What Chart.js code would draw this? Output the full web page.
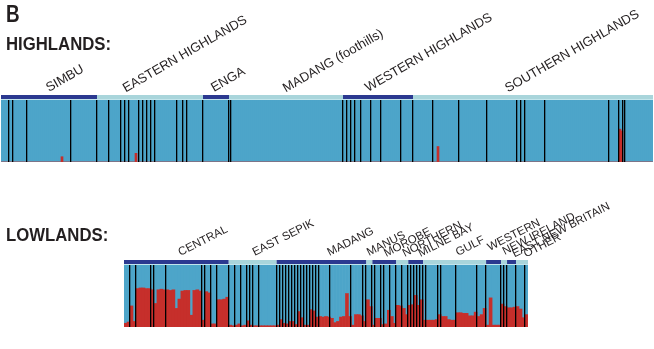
<!DOCTYPE html>
<html><head><meta charset="utf-8">
<script src="https://cdn.jsdelivr.net/npm/chart.js@4/dist/chart.umd.min.js"></script>
<style>
html,body{margin:0;padding:0;background:#fff;}
#wrap{position:relative;width:654px;height:349px;overflow:hidden;font-family:"Liberation Sans",Arial,sans-serif;color:#231f20;}
canvas{position:absolute;left:0;top:0;}
.h{position:absolute;font-weight:bold;line-height:1;white-space:nowrap;transform-origin:0 0;}
</style></head><body>
<div id="wrap">
<canvas id="hi" width="654" height="349"></canvas>
<canvas id="lo" width="654" height="349"></canvas>
<div class="h" style="left:5.5px;top:2.5px;font-size:23px;transform:scaleX(0.82)">B</div>
<div class="h" style="left:6px;top:34.5px;font-size:18px;transform:scaleX(0.93)">HIGHLANDS:</div>
<div class="h" style="left:6px;top:225.5px;font-size:18px;transform:scaleX(0.93)">LOWLANDS:</div>
</div>
<script>
// ---------- HIGHLANDS data ----------
const highlandGroups = ['SIMBU', 'EASTERN HIGHLANDS', 'ENGA', 'MADANG (foothills)', 'WESTERN HIGHLANDS', 'SOUTHERN HIGHLANDS'];
const highlandGroupSizes = [48, 53, 13, 57, 35, 120];
// red (lowland-like) ancestry fraction per individual
const highlandRed = [
 0,0,0,0,0,0,0,0,0,0,0,0,0,0,0,0,0,0,0,0,
 0,0,0,0,0,0,0,0,0,0,0.085,0,0,0,0,0,0,0,0,0,
 0,0,0,0,0,0,0,0,0,0,0,0,0,0,0,0,0,0,0,0,
 0,0,0,0,0,0,0,0.14,0,0,0,0,0,0,0,0,0,0,0,0,
 0,0,0,0,0,0,0,0,0,0,0,0,0,0,0,0,0,0,0,0,
 0,0,0,0,0,0,0,0,0,0,0,0,0,0,0,0,0,0,0,0,
 0,0,0,0,0,0,0,0,0,0,0,0,0,0,0,0,0,0,0,0,
 0,0,0,0,0,0,0,0,0,0,0,0,0,0,0,0,0,0,0,0,
 0,0,0,0,0,0,0,0,0,0,0,0,0,0,0,0,0,0,0,0,
 0,0,0,0,0,0,0,0,0,0,0,0,0,0,0,0,0,0,0,0,
 0,0,0,0,0,0,0,0,0,0,0,0,0,0,0,0,0,0,0.25,0,
 0,0,0,0,0,0,0,0,0,0,0,0,0,0,0,0,0,0,0,0,
 0,0,0,0,0,0,0,0,0,0,0,0,0,0,0,0,0,0,0,0,
 0,0,0,0,0,0,0,0,0,0,0,0,0,0,0,0,0,0,0,0,
 0,0,0,0,0,0,0,0,0,0,0,0,0,0,0,0,0,0,0,0,
 0,0,0,0,0,0,0,0,0,0.53,0.5,0,0,0,0,0,0,0,0,0,
 0,0,0,0,0,0
];
// sub-population boundaries (individual index where a new village starts)
const highlandBreaks = [4,6,13,35,48,54,60,62,64,69,71,73,75,77,88,91,93,101,114,115,171,173,175,177,180,185,190,200,206,216,229,243,258,260,262,272,304,309,311,312];

// ---------- LOWLANDS data ----------
const lowlandGroups = ['CENTRAL','EAST SEPIK','MADANG','MANUS','MOROBE','NORTHERN','MILNE BAY','GULF','WESTERN','NEW IRELAND','EAST NEW BRITAIN','OTHER'];
const lowlandGroupSizes = [35, 16, 30, 2, 8, 4, 5, 21, 5, 2, 3, 4];
const lowlandRed = [
 0.06,0.08,0.34,0.09,0.62,0.63,0.63,0.62,0.62,0.60,
 0.38,0.60,0.61,0.60,0.60,0.59,0.60,0.30,0.45,0.58,
 0.59,0.59,0.19,0.59,0.60,0.58,0.11,0.57,0.55,0.05,
 0.05,0.44,0.44,0.45,0.48,
 0.03,0.02,0.03,0.05,0.02,0.03,0.10,0.03,0.02,0.02,0.02,0.02,0.02,0.02,0.02,0.02,
 0.03,0.12,0.06,0.05,0.09,0.09,0.04,0.25,0.15,0.03,
 0.03,0.28,0.26,0.16,0.17,0.16,0.17,0.16,0.14,0.07,
 0.09,0.16,0.17,0.54,0.17,0.03,0.20,0.20,0.18,0.09,
 0.44,0.33,
 0.03,0.14,0.14,0.04,0.05,0.27,0.17,0.06,
 0.35,0.34,0.30,0.20,
 0.35,0.36,0.51,0.35,0.44,
 0.11,0.11,0.11,0.11,0.12,0.20,0.17,0.17,0.12,0.11,0.11,0.23,0.23,0.22,0.22,0.18,0.18,0.24,0.17,0.20,0.30,
 0.03,0.47,0.03,0.03,0.03,
 0.37,0.33,
 0.31,0.31,0.32,
 0.33,0.29,0.15,0.20
];
const lowlandBreaks = [2,4,9,10,14,26,27,29,31,35,37,39,41,42,43,45,51,52,53,54,55,56,57,58,59,60,61,62,63,64,65,69,76,80,81,83,84,86,87,89,91,93,95,96,97,98,99,100,101,105,106,111,118,121,126,127,128,131,134];

const COL = {blue:'#4da5c9', red:'#c62f2b', navy:'#2b3990', pale:'#a9d5db', rule:'#c2e5ec', ink:'#231f20', line:'#000000'};

const panelPlugin = {
  id: 'panel',
  afterDatasetsDraw(chart, args, o) {
    const ctx = chart.ctx, a = chart.chartArea, xs = chart.scales.x;
    const step = xs.getPixelForValue(1) - xs.getPixelForValue(0);
    const edge = b => xs.getPixelForValue(0) - step / 2 + b * step;
    const n = chart.data.labels.length;
    ctx.save();
    // village separators (crisp ~1px black rules)
    ctx.fillStyle = COL.line;
    o.breaks.forEach(b => { const x = Math.round(edge(b)); ctx.fillRect(x - 1, a.top, 1.3, a.bottom - a.top); });
    // group band
    let s = 0;
    o.sizes.forEach((sz, g) => {
      const x0 = edge(s), x1 = edge(s + sz);
      ctx.fillStyle = g % 2 === 0 ? COL.navy : COL.pale;
      ctx.fillRect(x0, a.top - 5, x1 - x0, 4);
      s += sz;
    });
    ctx.fillStyle = COL.rule;
    ctx.fillRect(edge(0), a.top - 1, edge(n) - edge(0), 1);
    // group labels
    ctx.fillStyle = COL.ink;
    ctx.font = o.fontSize + 'px "Liberation Sans", Arial, sans-serif';
    ctx.textAlign = 'left';
    ctx.textBaseline = 'alphabetic';
    o.names.forEach((name, g) => {
      ctx.save();
      ctx.translate(edge(o.labelAt[g]), a.top - o.labelDy[g]);
      ctx.rotate(-o.angle * Math.PI / 180);
      ctx.fillText(name, 0, 0);
      ctx.restore();
    });
    ctx.restore();
  }
};

function makeChart(id, red, names, sizes, breaks, pad, labelOpts) {
  return new Chart(document.getElementById(id), {
    type: 'bar',
    data: {
      labels: red.map((_, i) => id + (i + 1)),
      datasets: [
        {label: 'red cluster', data: red, backgroundColor: COL.red, borderWidth: 0, barPercentage: 1, categoryPercentage: 1},
        {label: 'blue cluster', data: red.map(v => +(1 - v).toFixed(3)), backgroundColor: COL.blue, borderWidth: 0, barPercentage: 1, categoryPercentage: 1}
      ]
    },
    options: {
      responsive: false, animation: false, events: [],
      layout: {padding: pad},
      plugins: {
        legend: {display: false}, tooltip: {enabled: false},
        panel: Object.assign({names: names, sizes: sizes, breaks: breaks}, labelOpts)
      },
      scales: {
        x: {display: false, stacked: true, grid: {display: false}},
        y: {display: false, stacked: true, min: 0, max: 1, grid: {display: false}}
      }
    },
    plugins: [panelPlugin]
  });
}

makeChart('hi', highlandRed, highlandGroups, highlandGroupSizes, highlandBreaks,
  {left: 1, right: 1, top: 100, bottom: 187},
  {fontSize: 13, angle: 30, labelAt: [24, 62.4, 106.5, 142.4, 183.5, 253.5], labelDy: [8, 7.4, 8, 7.4, 8, 7.4]});

makeChart('lo', lowlandRed, lowlandGroups, lowlandGroupSizes, lowlandBreaks,
  {left: 124, right: 126, top: 265, bottom: 22},
  {fontSize: 11.5, angle: 27, labelAt: [18.9, 43.7, 68.7, 81.9, 87.6, 93.8, 99.1, 111.6, 122.2, 127.2, 130.5, 134.3],
   labelDy: [9, 9, 9, 9, 8, 8, 8, 9, 14, 10, 7.5, 7.5]});
</script>
</body></html>
